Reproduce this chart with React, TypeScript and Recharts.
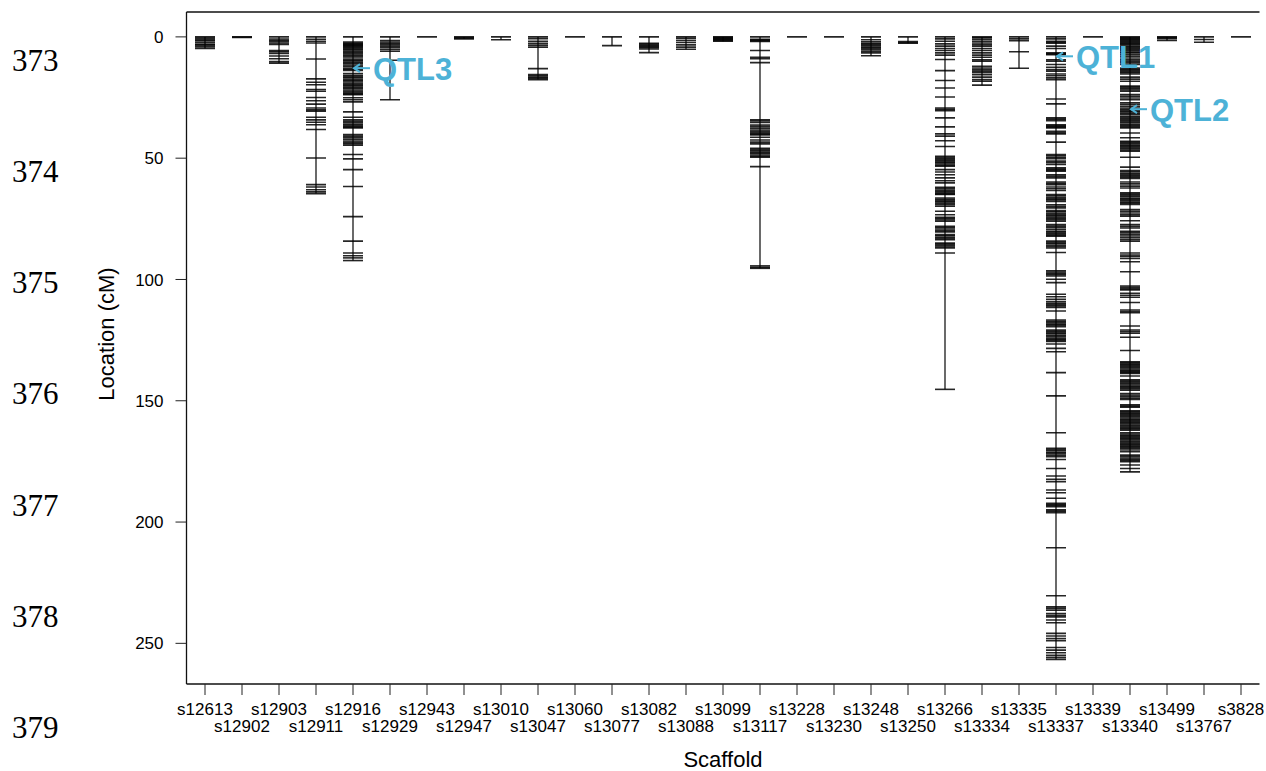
import { ComposedChart, ReferenceDot, ReferenceLine, Scatter, XAxis, YAxis } from "recharts";

const SANS = "'Liberation Sans', Arial, Helvetica, sans-serif";
const SERIF = "'Liberation Serif', 'Times New Roman', serif";
const QTL_BLUE = "#4db2d7";

const scaffolds = [
  "s12613", "s12902", "s12903", "s12911", "s12916", "s12929", "s12943", "s12947",
  "s13010", "s13047", "s13060", "s13077", "s13082", "s13088", "s13099", "s13117",
  "s13228", "s13230", "s13248", "s13250", "s13266", "s13334", "s13335", "s13337",
  "s13339", "s13340", "s13499", "s13767", "s3828",
];

// marker locations (cM) per scaffold
const s12613 = [0, 0.5, 1.2, 1.6, 2.2, 3.0, 3.4, 4.1, 4.8];
const s12902 = [0, 0.2];
const s12903 = [0, 0.9, 1.4, 1.9, 2.5, 3.1, 5.6, 6.1, 6.8, 7.9, 9.0, 10.2, 10.8];
const s12911 = [0, 1.0, 1.8, 2.5, 9.1, 17.3, 18.7, 19.7, 21.7, 22.4, 25.0, 26.3, 27.7, 29.3, 30.1, 30.6, 33.1, 34.2, 35.2, 36.2, 38.2, 49.9, 60.9, 61.9, 63.0, 63.9, 64.6];
const s12916 = [0, 2.1, 2.5, 2.9, 3.3, 3.6, 4.0, 4.4, 4.9, 5.3, 5.8, 6.3, 6.9, 7.5, 8.1, 8.7, 9.4, 9.9, 10.5, 11.0, 11.6, 12.1, 12.8, 13.3, 13.8, 15.1, 15.8, 16.4, 16.9, 17.6, 18.1, 18.6, 19.2, 19.7, 20.2, 20.8, 21.3, 21.9, 22.4, 23.0, 23.5, 23.8, 25.1, 25.9, 26.8, 30.9, 33.1, 34.2, 34.8, 35.4, 36.0, 36.6, 37.1, 37.5, 40.3, 40.9, 41.6, 42.2, 42.9, 43.5, 44.1, 44.7, 48.5, 50.3, 54.7, 61.7, 74.1, 84.2, 89.1, 90.2, 91.1, 92.2];
const s12929 = [0, 1.5, 2.1, 2.6, 3.2, 3.8, 4.5, 5.2, 5.9, 9.6, 25.9];
const s12943 = [0];
const s12947 = [0, 0.4, 0.8];
const s13010 = [0, 1.2];
const s13047 = [0, 0.7, 1.8, 2.6, 3.4, 4.2, 13.1, 15.5, 16.0, 16.6, 17.1, 17.6];
const s13060 = [0];
const s13077 = [0, 3.6];
const s13082 = [0, 2.6, 3.1, 3.6, 4.0, 4.5, 5.0, 6.5];
const s13088 = [0, 0.6, 1.5, 2.3, 3.3, 4.2, 5.1];
const s13099 = [0, 0.3, 0.6, 0.9, 1.2, 1.5, 1.8];
const s13117 = [0, 1.0, 1.3, 1.6, 1.9, 5.6, 8.4, 9.0, 10.6, 34.2, 34.7, 35.3, 36.3, 36.9, 37.6, 38.4, 38.9, 39.5, 40.0, 40.4, 41.4, 42.5, 43.4, 44.1, 45.9, 46.4, 47.0, 47.6, 48.1, 48.7, 49.2, 49.6, 53.5, 94.4, 95.0, 95.4];
const s13228 = [0];
const s13230 = [0];
const s13248 = [0, 1.2, 2.0, 2.6, 3.1, 3.6, 4.2, 4.7, 5.3, 5.9, 6.6, 7.8];
const s13250 = [0, 1.9, 2.3, 2.6];
const s13266 = [0, 0.8, 1.8, 2.9, 3.8, 4.8, 5.6, 6.6, 7.5, 9.3, 13.9, 18.0, 21.1, 24.8, 29.3, 29.9, 30.4, 33.4, 37.1, 40.0, 40.9, 42.8, 45.2, 49.2, 49.7, 50.3, 50.8, 51.4, 51.9, 52.4, 52.9, 53.3, 54.7, 55.7, 56.8, 58.1, 59.3, 60.2, 62.0, 62.5, 63.1, 63.6, 64.2, 64.7, 65.0, 66.4, 66.9, 67.5, 68.0, 68.6, 69.2, 69.8, 71.9, 73.3, 74.4, 74.9, 75.5, 76.0, 78.1, 78.6, 79.2, 79.8, 80.4, 81.5, 82.0, 82.6, 83.1, 83.6, 85.0, 85.5, 86.1, 86.6, 87.0, 89.1, 145.3];
const s13334 = [0, 0.4, 1.1, 1.8, 2.5, 3.2, 3.8, 4.8, 5.6, 6.6, 7.5, 8.4, 9.4, 10.0, 12.1, 12.8, 13.5, 14.1, 14.8, 15.6, 16.6, 17.6, 18.3, 19.9];
const s13335 = [0, 0.8, 1.6, 6.1, 12.9];
const s13337 = [0, 0.8, 1.8, 2.2, 2.6, 3.8, 4.8, 6.6, 7.0, 7.3, 9.4, 10.0, 11.4, 12.5, 13.5, 14.1, 15.3, 16.0, 16.9, 17.6, 25.6, 27.6, 33.4, 33.9, 34.5, 36.2, 36.7, 37.1, 37.5, 38.9, 39.5, 40.0, 43.4, 48.5, 49.0, 49.6, 50.2, 51.2, 51.9, 52.6, 54.0, 54.5, 55.0, 55.4, 56.8, 57.4, 58.1, 59.8, 60.4, 60.9, 61.9, 62.6, 63.3, 65.0, 65.5, 66.1, 66.7, 67.2, 67.8, 69.2, 69.8, 70.5, 71.6, 72.1, 72.7, 73.3, 73.8, 74.4, 75.0, 75.5, 76.0, 77.4, 78.0, 78.7, 79.4, 80.1, 80.6, 81.2, 81.7, 82.2, 84.2, 84.8, 85.3, 85.9, 86.5, 87.0, 88.9, 96.4, 96.9, 97.5, 98.0, 98.6, 99.9, 101.3, 106.1, 107.1, 108.2, 109.2, 109.8, 110.3, 110.9, 111.5, 113.0, 116.7, 117.2, 117.8, 118.4, 118.9, 119.5, 120.8, 121.3, 121.9, 122.4, 123.0, 123.5, 124.1, 124.6, 125.1, 125.6, 126.6, 128.4, 129.8, 138.4, 148.0, 163.2, 169.6, 170.1, 170.6, 171.2, 171.7, 172.4, 173.1, 174.2, 177.9, 181.0, 182.4, 183.4, 186.8, 187.9, 190.2, 192.3, 192.8, 193.2, 193.7, 195.0, 195.5, 196.1, 210.6, 230.4, 234.9, 235.5, 236.3, 237.7, 238.4, 239.1, 240.4, 241.5, 245.9, 247.0, 248.0, 248.9, 251.7, 252.8, 253.9, 254.9, 255.8, 256.6];
const s13339 = [0];
const s13340 = [0, 0.4, 0.8, 1.2, 1.6, 2.0, 2.4, 2.8, 3.2, 3.8, 4.3, 4.8, 5.2, 5.7, 6.2, 6.6, 7.3, 8.0, 8.7, 9.4, 10.0, 10.7, 11.4, 12.8, 13.3, 13.8, 14.3, 14.8, 15.3, 16.6, 17.4, 18.3, 20.3, 20.8, 21.4, 21.9, 22.4, 23.8, 24.5, 25.2, 25.9, 27.2, 27.9, 28.6, 29.3, 29.8, 30.4, 30.9, 31.5, 32.0, 32.7, 33.2, 33.8, 34.3, 34.9, 35.4, 36.0, 36.5, 37.0, 37.5, 39.6, 41.6, 43.0, 43.5, 44.0, 44.6, 45.1, 45.6, 46.1, 46.6, 47.1, 49.6, 53.7, 55.1, 55.6, 56.2, 56.7, 57.3, 57.8, 58.4, 59.8, 60.6, 61.5, 62.3, 64.3, 64.8, 65.4, 65.9, 66.5, 67.0, 67.5, 68.1, 68.6, 69.1, 71.2, 71.9, 72.6, 73.3, 73.9, 75.8, 77.4, 78.1, 78.8, 80.1, 80.7, 81.4, 82.1, 82.8, 83.5, 84.2, 89.1, 89.9, 90.4, 91.3, 92.7, 96.8, 102.7, 103.2, 103.8, 104.3, 105.7, 106.5, 107.3, 109.5, 112.6, 113.2, 113.7, 119.2, 120.8, 121.5, 122.2, 123.8, 129.3, 133.9, 134.4, 134.9, 135.4, 135.9, 136.4, 136.9, 137.4, 137.9, 138.3, 138.7, 139.8, 141.4, 141.9, 142.5, 143.0, 143.5, 144.0, 144.5, 145.0, 145.6, 147.0, 147.6, 148.2, 148.9, 149.5, 151.7, 152.2, 152.7, 154.1, 154.6, 155.1, 155.6, 156.1, 156.6, 157.1, 157.6, 158.1, 158.6, 159.1, 159.6, 160.1, 160.6, 161.1, 161.6, 162.1, 163.2, 163.7, 164.2, 164.7, 165.2, 165.7, 166.2, 166.7, 167.2, 167.7, 168.2, 168.7, 169.2, 169.7, 170.3, 171.0, 172.4, 173.0, 173.6, 174.1, 174.6, 175.1, 176.5, 177.9, 179.3];
const s13499 = [0, 0.3, 0.7, 1.5];
const s13767 = [0, 1.1, 2.2];
const s3828 = [0];

const markerSets = [
  s12613, s12902, s12903, s12911, s12916, s12929, s12943, s12947,
  s13010, s13047, s13060, s13077, s13082, s13088, s13099, s13117,
  s13228, s13230, s13248, s13250, s13266, s13334, s13335, s13337,
  s13339, s13340, s13499, s13767, s3828,
];

const yTicks = [0, 50, 100, 150, 200, 250];

const qtlNames = ["QTL3", "QTL1", "QTL2"];
const qtlScaffolds = ["s12916", "s13337", "s13340"];
const qtlLocations = [12.9, 8.0, 29.8];

// stray line numbers down the left margin of the page
const lineNumbers = ["373", "374", "375", "376", "377", "378", "379"];

const points = markerSets.flatMap((set, i) => set.map((y) => ({ x: i + 1, y })));

function MarkerTick(props: any) {
  const { cx, cy } = props;
  return <line x1={cx - 10} x2={cx + 10} y1={cy} y2={cy} stroke="#000" strokeOpacity={0.85} strokeWidth={1.6} />;
}

function ScaffoldTick(props: any) {
  const { x, y, payload } = props;
  const i = Number(payload.value) - 1;
  return (
    <text x={x} y={y} dy={i % 2 ? 37 : 20} textAnchor="middle" fontSize={17} fontFamily={SANS} fill="#000">
      {scaffolds[i]}
    </text>
  );
}

function QtlLabel(props: any) {
  const { cx, cy, name } = props;
  const tip = cx + 1;
  return (
    <g>
      <line x1={tip} x2={tip + 16} y1={cy} y2={cy} stroke={QTL_BLUE} strokeWidth={2} />
      <polyline points={`${tip + 6},${cy - 4} ${tip},${cy} ${tip + 6},${cy + 4}`} fill="none" stroke={QTL_BLUE} strokeWidth={2} />
      <text x={tip + 19} y={cy + 11.5} fontSize={31} fontWeight="bold" fontFamily={SANS} fill={QTL_BLUE}>
        {name}
      </text>
    </g>
  );
}

export default function App() {
  return (
    <div style={{ position: "absolute", left: 0, top: 0, width: 1266, height: 771, background: "#fff" }}>
      <ComposedChart width={1266} height={771} margin={{ top: 12, right: 6.5, bottom: 57, left: 0 }}>
        <XAxis
          type="number"
          dataKey="x"
          domain={[0.5, 29.5]}
          allowDataOverflow
          ticks={scaffolds.map((_, i) => i + 1)}
          interval={0}
          height={30}
          tickSize={11}
          tickMargin={0}
          tick={<ScaffoldTick />}
          tickLine={{ stroke: "#222" }}
          axisLine={{ stroke: "#111", strokeWidth: 1.3 }}
        />
        <YAxis
          type="number"
          dataKey="y"
          domain={[-10.26, 266.76]}
          allowDataOverflow
          reversed
          ticks={yTicks}
          width={186.5}
          tickSize={11}
          tickMargin={12}
          tick={{ fontSize: 17, fill: "#000", fontFamily: SANS }}
          tickLine={{ stroke: "#222" }}
          axisLine={{ stroke: "#111", strokeWidth: 1.3 }}
        />
        <ReferenceLine y={-10.26} stroke="#111" strokeWidth={1.3} ifOverflow="visible" />
        {markerSets.map((set, i) =>
          set.length > 1 ? (
            <ReferenceLine
              key={scaffolds[i]}
              segment={[
                { x: i + 1, y: Math.min(...set) },
                { x: i + 1, y: Math.max(...set) },
              ]}
              stroke="#444"
              strokeWidth={1.6}
              ifOverflow="visible"
            />
          ) : null
        )}
        <Scatter data={points} shape={<MarkerTick />} isAnimationActive={false} />
        {qtlNames.map((name, k) => (
          <ReferenceDot
            key={name}
            x={scaffolds.indexOf(qtlScaffolds[k]) + 1}
            y={qtlLocations[k]}
            r={0}
            ifOverflow="visible"
            shape={(p: any) => <QtlLabel {...p} name={name} />}
          />
        ))}
      </ComposedChart>
      <svg width={1266} height={771} style={{ position: "absolute", left: 0, top: 0, pointerEvents: "none" }}>
        <text x={106} y={334} transform="rotate(-90 106 334)" textAnchor="middle" dominantBaseline="central" fontSize={22} fontFamily={SANS} fill="#000">
          Location (cM)
        </text>
        <text x={723} y={767} textAnchor="middle" fontSize={22} fontFamily={SANS} fill="#000">
          Scaffold
        </text>
        {lineNumbers.map((n, i) => (
          <text key={n} x={12} y={60 + i * 111.3 + 10.5} fontSize={31} fontFamily={SERIF} fill="#000">
            {n}
          </text>
        ))}
      </svg>
    </div>
  );
}
